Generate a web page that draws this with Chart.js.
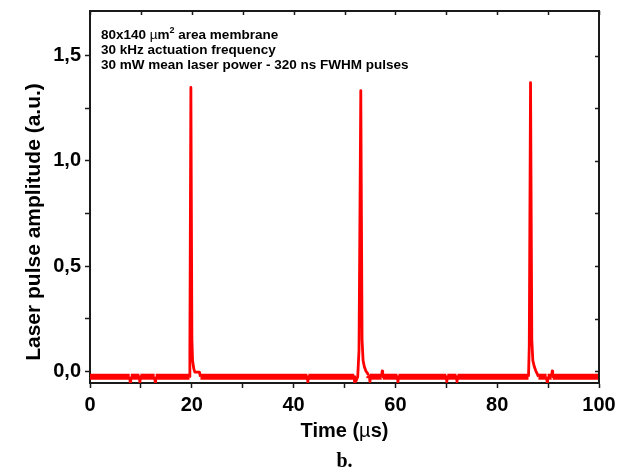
<!DOCTYPE html>
<html>
<head>
<meta charset="utf-8">
<script src="https://cdn.jsdelivr.net/npm/chart.js@4.4.1/dist/chart.umd.min.js"></script>
<style>
    body { margin: 0; background: #fff; }
    #wrap { width: 621px; height: 472px; }
</style>
</head>
<body>
<div id="wrap"><canvas id="pulseChart" width="621" height="472"></canvas></div>
<script>
// Laser pulse trace (time in µs, amplitude in a.u.)
const timeUs = [
    0, 7.8, 7.9, 8.0, 9.7, 9.8, 9.9, 12.7, 12.8, 12.9,
    19.55, 19.62, 19.82, 20.02, 20.15, 20.4, 20.6, 21.5, 21.7,
    42.7, 42.8, 42.9, 51.9, 52.0, 52.3, 52.6,
    52.85, 53.2, 53.45, 53.65, 53.9, 54.2, 54.5, 54.7, 54.9, 55.0, 55.1,
    57.3, 57.4, 57.5, 60.4, 60.5, 60.6, 70.0, 70.1, 70.2, 72.0, 72.1, 72.2,
    86.15, 86.3, 86.55, 86.8, 87.0, 87.3, 87.6, 87.9, 88.1,
    89.7, 89.8, 89.9, 90.7, 90.8, 90.9, 100
];
const amplitude = [
    -0.027, -0.027, -0.055, -0.027, -0.027, -0.055, -0.027, -0.027, -0.052, -0.027,
    -0.027, 0.10, 1.35, 0.15, 0.05, 0.01, -0.005, -0.005, -0.027,
    -0.027, -0.052, -0.027, -0.027, -0.057, -0.045, -0.027,
    0.10, 1.335, 0.15, 0.05, 0.02, 0.0, -0.01, -0.02, -0.027, -0.05, -0.027,
    -0.027, 0.0, -0.027, -0.027, -0.052, -0.027, -0.027, -0.05, -0.027, -0.027, -0.05, -0.027,
    -0.027, 0.12, 1.373, 0.15, 0.05, 0.02, 0.0, -0.015, -0.027,
    -0.027, -0.052, -0.027, -0.027, 0.0, -0.027, -0.027
];

const xMajorTicks = [0, 20, 40, 60, 80, 100];
const xAllTicks = [0, 10, 20, 30, 40, 50, 60, 70, 80, 90, 100];
const yMajorTicks = [0, 0.5, 1.0, 1.5];
const yAllTicks = [0, 0.25, 0.5, 0.75, 1.0, 1.25, 1.5];
const yLabels = ['0,0', '0,5', '1,0', '1,5'];

const annotationLines = [
    [['80x140 ', 'b'], ['\u00b5', 'n'], ['m', 'b'], ['2', 'sup'], [' area membrane', 'b']],
    [['30 kHz actuation frequency', 'b']],
    [['30 mW mean laser power - 320 ns FWHM pulses', 'b']]
];
const xTitle = [['Time (', 'b'], ['\u00b5', 'n'], ['s)', 'b']];
const yTitle = 'Laser pulse amplitude (a.u.)';
const panelLabel = 'b.';

const FONT = '"Liberation Sans", Arial, Helvetica, sans-serif';
const AXIS_COLOR = '#1a1a1a';

function setPieceFont(ctx, style, size) {
    if (style === 'b') ctx.font = `bold ${size}px ${FONT}`;
    else if (style === 'n') ctx.font = `${size}px ${FONT}`;
    else ctx.font = `bold ${Math.round(size * 0.7)}px ${FONT}`;
}

// draw a run of text pieces with mixed fonts, left to right
function drawPieces(ctx, pieces, x, y, size) {
    pieces.forEach(([text, style]) => {
        setPieceFont(ctx, style, size);
        const dy = style === 'sup' ? -size * 0.4 : 0;
        ctx.fillText(text, x, y + dy);
        x += ctx.measureText(text).width;
    });
    return x;
}

function measurePieces(ctx, pieces, size) {
    let w = 0;
    pieces.forEach(([text, style]) => {
        setPieceFont(ctx, style, size);
        w += ctx.measureText(text).width;
    });
    return w;
}

const framePlugin = {
    id: 'frame',
    afterDraw(chart) {
        const ctx = chart.ctx;
        const area = chart.chartArea;
        const xs = chart.scales.x;
        const ys = chart.scales.y;
        ctx.save();

        // top and right border with inward ticks
        ctx.strokeStyle = AXIS_COLOR;
        ctx.lineWidth = 2;
        ctx.beginPath();
        ctx.moveTo(area.left, area.top);
        ctx.lineTo(area.right, area.top);
        ctx.lineTo(area.right, area.bottom);
        ctx.stroke();
        ctx.lineWidth = 1.5;
        ctx.beginPath();
        xAllTicks.forEach(v => {
            const px = Math.round(xs.getPixelForValue(v)) + 0.5;
            ctx.moveTo(px, area.top);
            ctx.lineTo(px, area.top + 4);
        });
        yAllTicks.forEach(v => {
            const py = Math.round(ys.getPixelForValue(v)) + 0.5;
            ctx.moveTo(area.right, py);
            ctx.lineTo(area.right - 4, py);
        });
        ctx.stroke();

        // annotation text
        ctx.fillStyle = '#000';
        ctx.textBaseline = 'alphabetic';
        ctx.textAlign = 'left';
        annotationLines.forEach((line, i) => {
            drawPieces(ctx, line, 101, 38.5 + i * 15, 13.5);
        });

        // x axis title
        const cx = (area.left + area.right) / 2;
        const xw = measurePieces(ctx, xTitle, 20);
        drawPieces(ctx, xTitle, cx - xw / 2, 437, 20);

        // y axis title
        ctx.save();
        ctx.translate(40, 222);
        ctx.rotate(-Math.PI / 2);
        ctx.font = `bold 21px ${FONT}`;
        ctx.textAlign = 'center';
        ctx.fillText(yTitle, 0, 0);
        ctx.restore();

        // panel label
        ctx.font = 'bold 20px "Liberation Serif", "Times New Roman", serif';
        ctx.textAlign = 'center';
        ctx.fillText(panelLabel, cx, 467);

        ctx.restore();
    }
};

const points = timeUs.map((t, i) => ({ x: t, y: amplitude[i] }));

function onBaseline(v) {
    return v <= -0.02 && v >= -0.035;
}

function clearPadding(s) {
    s.paddingTop = 0;
    s.paddingBottom = 0;
    s.paddingLeft = 0;
    s.paddingRight = 0;
}

new Chart(document.getElementById('pulseChart'), {
    type: 'line',
    data: {
        datasets: [{
            data: points,
            borderColor: '#ff0000',
            borderWidth: 2.8,
            borderJoinStyle: 'round',
            pointRadius: 0,
            tension: 0,
            segment: {
                borderWidth: c => (onBaseline(c.p0.parsed.y) && onBaseline(c.p1.parsed.y)) ? 6 : 2.8
            }
        }]
    },
    options: {
        responsive: false,
        animation: false,
        layout: { padding: { top: 11, right: 22, left: 0, bottom: 0 } },
        plugins: {
            legend: { display: false },
            tooltip: { enabled: false }
        },
        scales: {
            x: {
                type: 'linear',
                min: 0,
                max: 100,
                afterFit: s => { s.height = 89; clearPadding(s); },
                afterBuildTicks: s => { s.ticks = xAllTicks.map(v => ({ value: v })); },
                ticks: {
                    autoSkip: false,
                    maxRotation: 0,
                    padding: 5,
                    color: '#000',
                    font: { family: FONT, size: 20, weight: 'bold' },
                    callback: v => xMajorTicks.includes(v) ? String(v) : ''
                },
                grid: {
                    drawOnChartArea: false,
                    drawTicks: true,
                    tickLength: 5,
                    tickWidth: 1.5,
                    tickColor: AXIS_COLOR
                },
                border: { display: true, color: AXIS_COLOR, width: 2 }
            },
            y: {
                type: 'linear',
                min: -0.057,
                max: 1.714,
                afterFit: s => { s.width = 90; clearPadding(s); },
                afterBuildTicks: s => { s.ticks = yAllTicks.map(v => ({ value: v })); },
                ticks: {
                    autoSkip: false,
                    padding: 4,
                    color: '#000',
                    font: { family: FONT, size: 20, weight: 'bold' },
                    callback: v => {
                        const k = yMajorTicks.indexOf(v);
                        return k >= 0 ? yLabels[k] : '';
                    }
                },
                grid: {
                    drawOnChartArea: false,
                    drawTicks: true,
                    tickLength: 5,
                    tickWidth: 1.5,
                    tickColor: AXIS_COLOR
                },
                border: { display: true, color: AXIS_COLOR, width: 2 }
            }
        }
    },
    plugins: [framePlugin]
});
</script>
</body>
</html>
